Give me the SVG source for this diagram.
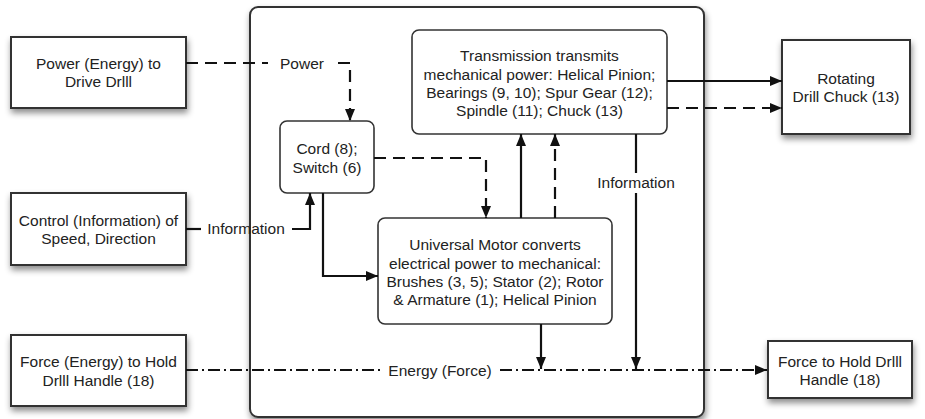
<svg xmlns="http://www.w3.org/2000/svg" width="925" height="419" viewBox="0 0 925 419">
<style>
text{font-family:"Liberation Sans",Arial,Helvetica,sans-serif;font-size:15.5px;fill:#222;text-anchor:middle}
.box{fill:#fff;stroke:#333;stroke-width:2}
.node{fill:#fff;stroke:#333;stroke-width:1.6}
.ln{fill:none;stroke:#111;stroke-width:2.2}
.dash{stroke-dasharray:12 7}
.dd{stroke-dasharray:12 4 2 4}
</style>
<defs>
<marker id="ah" viewBox="0 0 12 10" refX="12" refY="5" markerWidth="12" markerHeight="10" markerUnits="userSpaceOnUse" orient="auto">
<path d="M0,0 L12,5 L0,10 z" fill="#111"/>
</marker>
<filter id="sh" x="-10%" y="-10%" width="125%" height="140%">
<feDropShadow dx="1" dy="4" stdDeviation="3" flood-color="#000" flood-opacity="0.45"/>
</filter>
</defs>

<g id="container">
<rect x="250" y="7" width="454" height="410" rx="8" class="box" filter="url(#sh)"/>
</g>

<g id="power-in">
<rect x="11" y="37" width="175" height="71" class="box" filter="url(#sh)"/>
<text x="98.5" y="69">Power (Energy) to</text>
<text x="98.5" y="87">Drive Drlll</text>
</g>
<g id="control-in">
<rect x="11" y="193" width="175" height="72" class="box" filter="url(#sh)"/>
<text x="98.5" y="226">Control (Information) of</text>
<text x="98.5" y="244">Speed, Direction</text>
</g>
<g id="force-in">
<rect x="11" y="335" width="175" height="71" class="box" filter="url(#sh)"/>
<text x="98.5" y="367">Force (Energy) to Hold</text>
<text x="98.5" y="386">Drlll Handle (18)</text>
</g>
<g id="chuck-out">
<rect x="782" y="40" width="128" height="94" class="box" filter="url(#sh)"/>
<text x="846" y="84">Rotating</text>
<text x="846" y="102">Drill Chuck (13)</text>
</g>
<g id="force-out">
<rect x="768" y="341" width="144" height="57" class="box" filter="url(#sh)"/>
<text x="840" y="367">Force to Hold Drlll</text>
<text x="840" y="385">Handle (18)</text>
</g>

<g id="cord">
<rect x="280" y="121" width="94" height="72" rx="7" class="node"/>
<text x="327" y="154">Cord (8);</text>
<text x="327" y="173">Switch (6)</text>
</g>
<g id="transmission">
<rect x="412" y="30" width="255" height="104" rx="7" class="node"/>
<text x="539.5" y="61">Transmission transmits</text>
<text x="539.5" y="80">mechanical power: Helical Pinion;</text>
<text x="539.5" y="98">Bearings (9, 10); Spur Gear (12);</text>
<text x="539.5" y="116">Spindle (11); Chuck (13)</text>
</g>
<g id="motor">
<rect x="378" y="218" width="234" height="106" rx="7" class="node"/>
<text x="495" y="250">Universal Motor converts</text>
<text x="495" y="269">electrical power to mechanical:</text>
<text x="495" y="287">Brushes (3, 5); Stator (2); Rotor</text>
<text x="495" y="305">&amp; Armature (1); Helical Pinion</text>
</g>

<g id="connectors">
<path class="ln dash" d="M186,63 H268"/>
<path class="ln dash" d="M338,63 H350 V121" marker-end="url(#ah)"/>
<text x="302" y="68.5">Power</text>

<path class="ln" d="M186,229 H201"/>
<path class="ln" d="M292,229 H310 V193" marker-end="url(#ah)"/>
<text x="246" y="234">Information</text>

<path class="ln" d="M323,193 V276 H378" marker-end="url(#ah)"/>
<path class="ln dash" d="M374,158 H486 V218" marker-end="url(#ah)"/>

<path class="ln" d="M521,218 V134" marker-end="url(#ah)"/>
<path class="ln dash" d="M555,218 V134" marker-end="url(#ah)"/>

<path class="ln" d="M667,81 H782" marker-end="url(#ah)"/>
<path class="ln dash" d="M667,108 H782" marker-end="url(#ah)"/>

<path class="ln" d="M636,134 V173"/>
<path class="ln" d="M636,193 V369" marker-end="url(#ah)"/>
<text x="636" y="188">Information</text>

<path class="ln" d="M541,324 V369" marker-end="url(#ah)"/>

<path class="ln dd" d="M186,370 H380"/>
<path class="ln dd" d="M500,370 H767" marker-end="url(#ah)"/>
<text x="440" y="375.5">Energy (Force)</text>
</g>
</svg>
